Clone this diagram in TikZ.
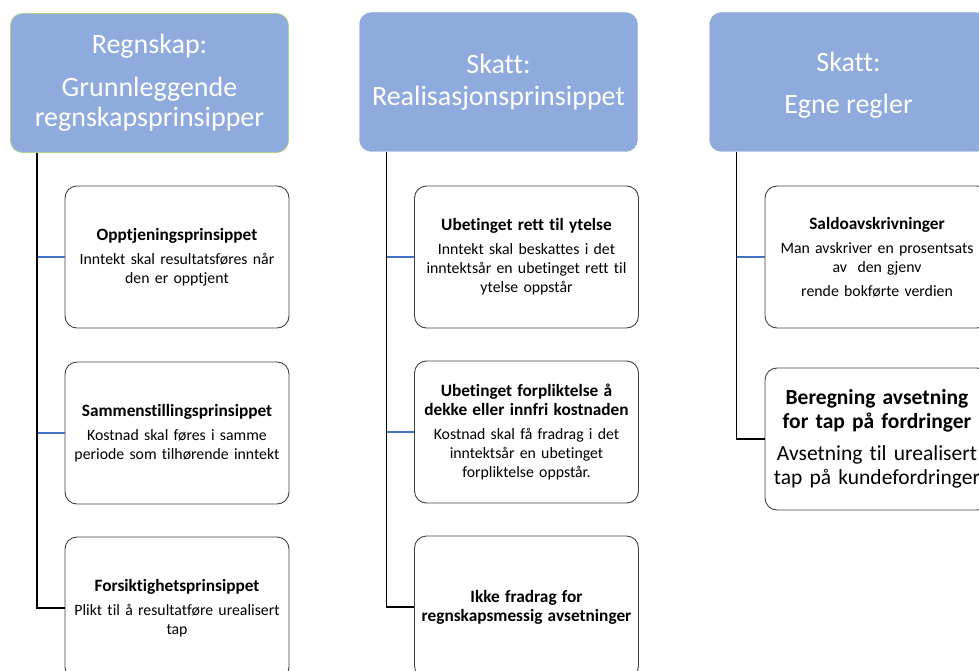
\documentclass[tikz,border=0pt]{standalone}
\usepackage{fontspec}
\setmainfont[Ligatures=NoCommon]{Carlito}
\definecolor{hdrfill}{HTML}{8FAADC}
\definecolor{hdrgreen}{HTML}{A9D18E}
\definecolor{boxline}{HTML}{404040}
\definecolor{conblue}{HTML}{4472C4}
\newcommand\boxtitle[1]{{\fontsize{17.3}{19}\selectfont\bfseries #1}}
\begin{document}
\begin{tikzpicture}[x=1pt,y=-1pt,
  hdr/.style={rectangle, rounded corners=12pt, fill=hdrfill, draw=hdrfill, text=white,
    minimum width=278pt, minimum height=139pt, align=center, inner sep=0pt,
    font=\fontsize{28}{30}\selectfont},
  sub/.style={rectangle, rounded corners=12pt, fill=white, draw=boxline, line width=0.9pt,
    minimum width=224pt, minimum height=142pt, align=center, inner sep=0pt, text width=222pt,
    font=\fontsize{15.8}{19}\selectfont},
  spine/.style={black, line width=1.4pt},
  branch/.style={conblue, line width=1.3pt}]
\clip (0,0) rectangle (979,671);

% headers
\node[hdr, draw=hdrgreen, line width=0.8pt] (h1) at (149.5,83) {Regnskap:\\[13pt]Grunnleggende\\regnskapsprinsipper};
\node[hdr] (h2) at (498.5,82) {Skatt:\\[2pt]Realisasjonsprinsippet};
\node[hdr] (h3) at (848.5,82) {\strut\\[-26pt]Skatt:\\[12pt]Egne regler};

% left column
\node[sub] (a1) at (177,257) {\boxtitle{Opptjeningsprinsippet}\\[5pt]Inntekt skal resultatsføres når\\den er opptjent};
\node[sub] (a2) at (177,433) {\boxtitle{Sammenstillingsprinsippet}\\[5pt]Kostnad skal føres i samme\\periode som tilhørende inntekt};
\node[sub] (a3) at (177,608) {\boxtitle{Forsiktighetsprinsippet}\\[5pt]Plikt til å resultatføre urealisert\\tap};

% middle column
\node[sub] (b1) at (526.5,257) {\boxtitle{Ubetinget rett til ytelse}\\[5pt]Inntekt skal beskattes i det\\inntektsår en ubetinget rett til\\ytelse oppstår};
\node[sub] (b2) at (526.5,432) {\boxtitle{Ubetinget forpliktelse å}\\\boxtitle{dekke eller innfri kostnaden}\\[5pt]Kostnad skal få fradrag i det\\inntektsår en ubetinget\\forpliktelse oppstår.};
\node[sub] (b3) at (526.5,607) {\boxtitle{Ikke fradrag for}\\\boxtitle{regnskapsmessig avsetninger}};

% right column
\node[sub] (c1) at (877,257) {\boxtitle{Saldoavskrivninger}\\[5pt]Man avskriver en prosentsats\\av\ \ den gjenv\\[5pt]rende bokførte verdien};
\node[sub, font=\fontsize{21.5}{24}\selectfont] (c2) at (877,439) {\textbf{Beregning avsetning}\\\textbf{for tap på fordringer}\\[8pt]Avsetning til urealisert\\tap på kundefordringer};

% spine coordinates
\coordinate (s1) at ([xshift=27pt]h1.south west);
\coordinate (s2) at ([xshift=27pt]h2.south west);
\coordinate (s3) at ([xshift=27pt]h3.south west);

% blue branches
\draw[branch] (s1 |- a1.west) -- (a1.west);
\draw[branch] (s1 |- a2.west) -- (a2.west);
\draw[branch] (s2 |- b1.west) -- (b1.west);
\draw[branch] (s2 |- b2.west) -- (b2.west);
\draw[branch] (s3 |- c1.west) -- (c1.west);

% black spines
\draw[spine] (s1) |- (a3.west);
\draw[spine] (s2) |- (b3.west);
\draw[spine] (s3) |- (c2.west);
\end{tikzpicture}
\end{document}
